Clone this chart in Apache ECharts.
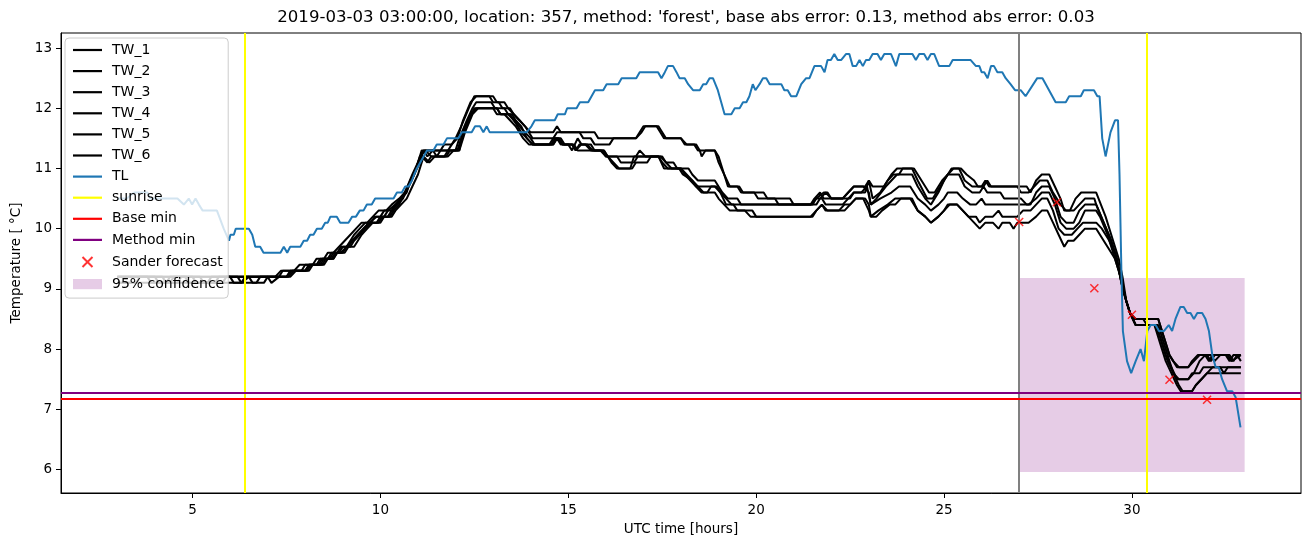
<!DOCTYPE html>
<html><head><meta charset="utf-8">
<script src="https://cdn.jsdelivr.net/npm/echarts@6/dist/echarts.min.js"></script>
<style>html,body{margin:0;padding:0;background:#fff}#c{width:1311px;height:547px}</style>
</head><body><div id="c"></div>
<script>
const titleText = "2019-03-03 03:00:00, location: 357, method: 'forest', base abs error: 0.13, method abs error: 0.03";
const xTicks = [5, 10, 15, 20, 25, 30];
const yTicks = [6, 7, 8, 9, 10, 11, 12, 13];
const sunrise = [6.4, 30.4];
const forecastTime = [27];
const baseMin = [7.17];
const methodMin = [7.28];
const sander = [[27, 10.11], [28, 10.44], [29, 9.01], [30, 8.57], [31, 7.49], [32, 7.16]];
const confX = [27, 33];
const confY = [5.96, 9.18];

const TW_1 = [[3.0,9.2],[5.2,9.2],[5.3,9.1],[5.6,9.1],[5.7,9.2],[7.3,9.2],[7.4,9.3],[7.9,9.3],[8.0,9.4],[8.3,9.4],[8.4,9.5],[8.6,9.5],[8.7,9.6],[8.85,9.6],[8.95,9.7],[9.1,9.7],[9.2,9.8],[9.3,9.9],[9.45,10.0],[9.6,10.1],[9.75,10.1],[9.85,10.2],[10.0,10.2],[10.1,10.3],[10.3,10.3],[10.4,10.4],[10.55,10.5],[10.7,10.6],[10.8,10.8],[10.95,11.0],[11.1,11.3],[11.6,11.3],[11.7,11.4],[11.9,11.4],[12.0,11.5],[12.15,11.7],[12.35,12.0],[12.5,12.2],[13.0,12.2],[13.1,12.1],[13.3,12.1],[13.4,12.0],[13.55,11.9],[13.7,11.8],[13.85,11.7],[14.0,11.6],[14.6,11.6],[14.7,11.7],[14.8,11.6],[15.7,11.6],[15.8,11.5],[16.8,11.5],[16.95,11.6],[17.05,11.7],[17.4,11.7],[17.5,11.6],[17.6,11.5],[18.0,11.5],[18.1,11.4],[18.35,11.4],[18.45,11.3],[18.9,11.3],[19.0,11.2],[19.1,11.0],[19.25,10.7],[19.5,10.7],[19.6,10.6],[20.2,10.6],[20.3,10.5],[20.9,10.5],[21.0,10.4],[21.6,10.4],[21.7,10.5],[21.85,10.6],[22.0,10.5],[22.3,10.5],[22.45,10.6],[22.6,10.7],[22.9,10.7],[23.0,10.8],[23.1,10.7],[23.4,10.7],[23.6,10.9],[23.75,11.0],[24.2,11.0],[24.4,10.8],[24.6,10.6],[24.75,10.6],[24.95,10.8],[25.1,10.9],[25.25,11.0],[25.45,11.0],[25.6,10.9],[25.8,10.8],[25.9,10.7],[26.05,10.7],[26.15,10.8],[26.25,10.7],[27.2,10.7],[27.3,10.6],[27.45,10.8],[27.6,10.9],[27.8,10.9],[27.95,10.7],[28.1,10.5],[28.2,10.3],[28.35,10.3],[28.5,10.5],[28.65,10.6],[29.05,10.6],[29.3,10.2],[29.5,9.8],[29.65,9.5],[29.75,9.2],[29.85,8.8],[29.95,8.6],[30.05,8.5],[30.7,8.5],[30.85,8.2],[31.0,7.9],[31.1,7.8],[31.2,7.7],[31.5,7.7],[31.6,7.8],[31.75,7.9],[31.95,7.9],[32.05,7.8],[32.15,7.9],[32.5,7.9],[32.6,7.8],[32.7,7.9],[32.9,7.9]];

const TW_2 = [[3.0,9.2],[4.8,9.2],[4.9,9.1],[5.4,9.1],[5.5,9.2],[6.5,9.2],[6.6,9.1],[6.9,9.1],[7.0,9.2],[7.5,9.2],[7.6,9.3],[8.0,9.3],[8.1,9.4],[8.45,9.4],[8.55,9.5],[8.75,9.5],[8.85,9.6],[9.0,9.6],[9.1,9.7],[9.25,9.8],[9.4,9.9],[9.55,10.0],[9.7,10.1],[9.9,10.1],[10.0,10.2],[10.2,10.2],[10.3,10.3],[10.45,10.4],[10.6,10.5],[10.75,10.7],[10.9,10.9],[11.05,11.1],[11.15,11.3],[11.25,11.2],[11.4,11.3],[11.8,11.3],[11.9,11.4],[12.05,11.5],[12.2,11.8],[12.4,12.1],[12.55,12.2],[12.9,12.2],[13.0,12.1],[13.15,12.1],[13.25,12.0],[13.45,12.0],[13.55,11.9],[13.7,11.8],[13.85,11.7],[13.95,11.6],[14.05,11.5],[14.6,11.5],[14.7,11.6],[15.3,11.6],[15.4,11.5],[15.6,11.5],[15.7,11.4],[16.1,11.4],[16.2,11.5],[16.8,11.5],[16.9,11.6],[17.0,11.7],[17.35,11.7],[17.45,11.6],[17.55,11.5],[18.0,11.5],[18.15,11.4],[18.4,11.4],[18.5,11.3],[18.55,11.2],[18.65,11.3],[18.9,11.3],[19.0,11.1],[19.15,10.9],[19.3,10.7],[19.55,10.7],[19.65,10.6],[19.95,10.6],[20.05,10.5],[20.5,10.5],[20.6,10.4],[21.5,10.4],[21.6,10.5],[21.8,10.6],[21.9,10.6],[22.0,10.5],[22.5,10.5],[22.6,10.6],[22.9,10.6],[23.0,10.8],[23.1,10.5],[23.3,10.6],[23.5,10.8],[23.65,10.9],[23.8,10.9],[23.9,11.0],[24.15,11.0],[24.3,10.8],[24.55,10.5],[24.7,10.5],[24.9,10.7],[25.1,10.9],[25.2,11.0],[25.4,11.0],[25.55,10.8],[25.75,10.7],[26.0,10.7],[26.1,10.8],[26.2,10.7],[26.95,10.7],[27.05,10.6],[27.25,10.6],[27.4,10.7],[27.55,10.8],[27.75,10.8],[27.9,10.6],[28.1,10.4],[28.25,10.3],[28.45,10.3],[28.6,10.4],[28.75,10.5],[29.0,10.5],[29.05,10.4],[29.25,10.1],[29.45,9.8],[29.6,9.5],[29.72,9.1],[29.85,8.8],[29.95,8.6],[30.05,8.5],[30.7,8.5],[30.85,8.2],[31.0,7.9],[31.1,7.8],[31.25,7.7],[31.5,7.7],[31.65,7.8],[31.8,7.9],[32.0,7.9],[32.1,7.8],[32.2,7.9],[32.6,7.9],[32.7,7.8],[32.8,7.9],[32.9,7.8]];

const TW_3 = [[3.0,9.1],[4.4,9.1],[4.5,9.2],[5.0,9.2],[5.1,9.1],[6.7,9.1],[6.8,9.2],[7.2,9.2],[7.35,9.3],[7.7,9.3],[7.85,9.4],[8.2,9.4],[8.3,9.5],[8.5,9.5],[8.6,9.6],[8.75,9.6],[8.9,9.7],[9.05,9.8],[9.2,9.9],[9.35,10.0],[9.5,10.1],[9.65,10.1],[9.8,10.2],[9.95,10.3],[10.15,10.3],[10.3,10.4],[10.5,10.5],[10.65,10.6],[10.85,10.9],[11.0,11.1],[11.15,11.3],[11.4,11.3],[11.5,11.2],[11.6,11.3],[12.0,11.3],[12.1,11.5],[12.3,11.8],[12.45,12.0],[12.55,12.1],[12.95,12.1],[13.05,12.0],[13.3,12.0],[13.4,11.9],[13.55,11.8],[13.7,11.7],[13.85,11.6],[14.0,11.5],[14.1,11.4],[14.5,11.4],[14.6,11.5],[14.75,11.5],[14.85,11.4],[15.1,11.4],[15.2,11.3],[15.3,11.4],[15.45,11.4],[15.6,11.3],[15.9,11.3],[16.0,11.2],[16.8,11.2],[16.9,11.3],[17.05,11.2],[17.5,11.2],[17.6,11.1],[17.8,11.1],[17.9,11.0],[18.2,11.0],[18.3,10.9],[18.45,10.8],[18.9,10.8],[19.0,10.7],[19.1,10.6],[19.25,10.5],[19.5,10.5],[19.6,10.4],[21.45,10.4],[21.55,10.5],[21.7,10.6],[21.8,10.5],[22.3,10.5],[22.45,10.6],[22.6,10.7],[22.85,10.7],[23.0,10.6],[23.05,10.4],[23.2,10.5],[23.45,10.7],[23.6,10.8],[23.75,10.9],[24.15,10.9],[24.3,10.7],[24.5,10.5],[24.65,10.4],[24.85,10.6],[25.0,10.8],[25.1,10.9],[25.4,10.9],[25.55,10.7],[25.75,10.6],[25.95,10.6],[26.05,10.7],[26.15,10.6],[26.5,10.6],[26.6,10.5],[27.05,10.5],[27.2,10.4],[27.3,10.4],[27.45,10.6],[27.6,10.7],[27.8,10.7],[27.95,10.5],[28.1,10.2],[28.25,10.1],[28.45,10.1],[28.6,10.3],[28.75,10.4],[29.05,10.4],[29.25,10.1],[29.45,9.8],[29.6,9.5],[29.72,9.1],[29.85,8.8],[29.95,8.6],[30.1,8.5],[30.3,8.5],[30.4,8.4],[30.7,8.4],[30.85,8.1],[31.0,7.8],[31.1,7.6],[31.25,7.5],[31.5,7.5],[31.65,7.6],[31.8,7.8],[31.95,7.9],[32.1,7.9],[32.2,7.8],[32.35,7.9],[32.55,7.9],[32.65,7.8],[32.9,7.9]];

const TW_4 = [[3.0,9.2],[3.8,9.2],[3.9,9.1],[4.6,9.1],[4.7,9.2],[6.0,9.2],[6.1,9.1],[6.3,9.1],[6.4,9.2],[7.5,9.2],[7.65,9.3],[8.0,9.3],[8.1,9.4],[8.35,9.4],[8.45,9.5],[8.65,9.5],[8.75,9.6],[8.9,9.6],[9.0,9.7],[9.15,9.7],[9.25,9.8],[9.4,9.9],[9.55,10.0],[9.7,10.1],[9.9,10.2],[10.1,10.2],[10.2,10.3],[10.4,10.4],[10.55,10.5],[10.75,10.7],[10.9,10.9],[11.05,11.2],[11.2,11.3],[11.35,11.2],[11.75,11.2],[11.85,11.3],[12.1,11.3],[12.2,11.6],[12.4,11.9],[12.55,12.0],[13.1,12.0],[13.2,11.9],[13.45,11.9],[13.55,11.8],[13.75,11.6],[13.9,11.5],[14.05,11.4],[14.6,11.4],[14.7,11.5],[14.8,11.4],[15.0,11.4],[15.1,11.3],[15.25,11.5],[15.35,11.4],[15.6,11.4],[15.7,11.3],[15.95,11.3],[16.05,11.2],[16.15,11.1],[16.3,11.0],[16.65,11.0],[16.75,11.2],[17.4,11.2],[17.55,11.0],[17.95,11.0],[18.05,10.9],[18.3,10.8],[18.4,10.7],[18.9,10.7],[19.05,10.6],[19.2,10.5],[19.35,10.4],[21.45,10.4],[21.6,10.5],[21.75,10.5],[21.85,10.4],[22.3,10.4],[22.45,10.5],[22.6,10.6],[22.8,10.6],[22.95,10.7],[23.05,10.4],[23.3,10.5],[23.6,10.6],[23.8,10.7],[24.1,10.7],[24.3,10.5],[24.5,10.4],[24.65,10.3],[24.85,10.4],[25.0,10.5],[25.1,10.6],[25.35,10.6],[25.5,10.5],[25.7,10.4],[25.85,10.4],[26.0,10.5],[26.1,10.4],[27.05,10.4],[27.25,10.4],[27.45,10.5],[27.6,10.6],[27.8,10.6],[27.95,10.4],[28.1,10.1],[28.25,10.0],[28.45,10.0],[28.6,10.1],[28.75,10.3],[29.05,10.3],[29.15,10.2],[29.35,9.9],[29.5,9.6],[29.65,9.3],[29.8,8.9],[29.95,8.6],[30.1,8.4],[30.6,8.4],[30.75,8.2],[30.9,7.9],[31.05,7.7],[31.2,7.5],[31.5,7.5],[31.6,7.6],[31.8,7.6],[31.9,7.7],[32.9,7.7]];

const TW_5 = [[3.0,9.1],[3.5,9.1],[3.6,9.2],[4.2,9.2],[4.3,9.1],[5.8,9.1],[5.9,9.2],[7.0,9.2],[7.1,9.1],[7.3,9.2],[7.55,9.2],[7.7,9.3],[8.05,9.3],[8.15,9.4],[8.4,9.4],[8.5,9.5],[8.7,9.5],[8.8,9.6],[8.95,9.6],[9.1,9.7],[9.2,9.7],[9.3,9.8],[9.45,9.9],[9.6,10.0],[9.75,10.1],[9.95,10.1],[10.05,10.2],[10.25,10.2],[10.35,10.3],[10.5,10.4],[10.65,10.6],[10.8,10.8],[10.95,11.0],[11.1,11.2],[11.25,11.1],[11.35,11.2],[11.7,11.2],[11.8,11.3],[12.05,11.3],[12.15,11.5],[12.35,11.8],[12.5,12.0],[13.0,12.0],[13.1,11.9],[13.3,11.9],[13.45,11.8],[13.6,11.7],[13.8,11.5],[13.95,11.4],[14.6,11.4],[14.7,11.5],[14.85,11.4],[15.15,11.4],[15.25,11.3],[15.95,11.3],[16.05,11.2],[16.2,11.1],[16.35,11.0],[16.7,11.0],[16.8,11.1],[17.1,11.1],[17.2,11.2],[17.4,11.2],[17.5,11.1],[17.65,11.0],[18.0,11.0],[18.1,10.9],[18.25,10.8],[18.4,10.7],[18.55,10.6],[18.7,10.6],[18.8,10.7],[18.95,10.7],[19.05,10.6],[19.2,10.4],[19.4,10.4],[19.5,10.3],[19.9,10.3],[20.0,10.2],[21.5,10.2],[21.6,10.3],[21.75,10.4],[21.85,10.3],[22.35,10.3],[22.5,10.4],[22.65,10.5],[22.9,10.5],[23.0,10.4],[23.05,10.2],[23.25,10.3],[23.5,10.4],[23.7,10.5],[24.1,10.5],[24.3,10.3],[24.5,10.2],[24.65,10.1],[24.85,10.2],[25.0,10.3],[25.1,10.4],[25.35,10.4],[25.5,10.3],[25.65,10.2],[25.85,10.2],[25.95,10.1],[26.1,10.2],[26.3,10.2],[26.45,10.3],[26.55,10.2],[26.95,10.2],[27.1,10.3],[27.3,10.3],[27.45,10.4],[27.6,10.5],[27.75,10.5],[27.9,10.3],[28.05,10.0],[28.2,9.9],[28.4,9.9],[28.55,10.0],[28.7,10.1],[29.05,10.1],[29.2,10.0],[29.4,9.8],[29.55,9.6],[29.7,9.2],[29.85,8.8],[29.95,8.6],[30.1,8.4],[30.65,8.4],[30.8,8.1],[30.95,7.8],[31.1,7.6],[31.25,7.4],[31.35,7.3],[31.6,7.3],[31.7,7.4],[31.85,7.5],[32.0,7.6],[32.15,7.7],[32.35,7.7],[32.45,7.6],[32.55,7.7],[32.9,7.7]];

const TW_6 = [[3.0,9.2],[4.0,9.2],[4.1,9.1],[4.3,9.1],[4.4,9.2],[6.2,9.2],[6.3,9.1],[6.5,9.2],[7.6,9.2],[7.75,9.3],[8.1,9.3],[8.2,9.4],[8.5,9.4],[8.6,9.5],[8.75,9.5],[8.85,9.6],[9.05,9.6],[9.15,9.7],[9.3,9.7],[9.4,9.8],[9.5,9.9],[9.65,10.0],[9.8,10.1],[10.0,10.1],[10.1,10.2],[10.3,10.2],[10.4,10.3],[10.55,10.4],[10.7,10.5],[10.85,10.7],[11.0,10.9],[11.15,11.2],[11.3,11.1],[11.45,11.2],[11.8,11.2],[11.95,11.3],[12.1,11.3],[12.25,11.6],[12.45,11.9],[12.6,12.0],[13.1,12.0],[13.2,11.9],[13.5,11.9],[13.6,11.8],[13.75,11.7],[13.9,11.5],[14.05,11.4],[14.55,11.4],[14.65,11.5],[14.8,11.5],[14.9,11.4],[15.1,11.4],[15.2,11.3],[15.35,11.4],[15.5,11.4],[15.65,11.3],[15.85,11.3],[16.0,11.2],[16.3,11.2],[16.4,11.1],[16.75,11.1],[16.85,11.2],[17.45,11.2],[17.6,11.1],[17.75,11.0],[18.0,11.0],[18.15,10.9],[18.3,10.8],[18.45,10.7],[18.6,10.6],[18.9,10.6],[19.0,10.5],[19.15,10.4],[19.3,10.3],[19.7,10.3],[19.85,10.2],[21.45,10.2],[21.6,10.3],[21.75,10.4],[21.9,10.3],[22.2,10.3],[22.35,10.4],[22.5,10.4],[22.65,10.5],[22.85,10.5],[23.0,10.3],[23.05,10.2],[23.2,10.2],[23.35,10.3],[23.55,10.4],[23.7,10.4],[23.85,10.5],[24.15,10.5],[24.3,10.3],[24.5,10.2],[24.65,10.1],[24.85,10.2],[25.0,10.3],[25.15,10.4],[25.35,10.4],[25.5,10.3],[25.65,10.2],[25.8,10.1],[25.95,10.0],[26.1,10.1],[26.3,10.1],[26.45,10.0],[26.55,10.1],[26.75,10.1],[26.85,10.0],[26.95,10.1],[27.25,10.1],[27.45,10.2],[27.6,10.3],[27.75,10.3],[27.9,10.1],[28.05,9.9],[28.2,9.7],[28.3,9.8],[28.45,9.8],[28.6,9.9],[28.75,10.0],[29.05,10.0],[29.15,9.9],[29.35,9.7],[29.55,9.5],[29.7,9.2],[29.85,8.8],[29.95,8.6],[30.1,8.4],[30.6,8.4],[30.75,8.1],[30.9,7.8],[31.05,7.6],[31.2,7.4],[31.3,7.3],[31.6,7.3],[31.7,7.4],[31.85,7.5],[32.0,7.6],[32.9,7.6]];

const TL = [[3.0,10.5],[3.25,10.5],[3.45,10.6],[3.8,10.6],[3.88,10.5],[4.6,10.5],[4.77,10.4],[4.9,10.5],[4.99,10.4],[5.08,10.5],[5.17,10.4],[5.27,10.3],[5.65,10.3],[5.83,10.0],[5.97,9.8],[6.01,9.9],[6.1,9.9],[6.15,10.0],[6.5,10.0],[6.59,9.9],[6.67,9.7],[6.8,9.7],[6.89,9.6],[7.34,9.6],[7.43,9.7],[7.52,9.6],[7.6,9.7],[7.87,9.7],[7.96,9.8],[8.05,9.8],[8.13,9.9],[8.22,9.9],[8.31,10.0],[8.44,10.0],[8.53,10.1],[8.6,10.1],[8.67,10.2],[8.84,10.2],[8.93,10.1],[9.15,10.1],[9.25,10.2],[9.35,10.2],[9.45,10.3],[9.55,10.3],[9.64,10.4],[9.77,10.4],[9.86,10.5],[10.35,10.5],[10.44,10.6],[10.57,10.6],[10.66,10.7],[10.75,10.7],[10.84,10.8],[10.9,10.9],[10.97,11.0],[11.06,11.1],[11.15,11.2],[11.24,11.3],[11.41,11.3],[11.5,11.4],[11.68,11.4],[11.77,11.5],[12.07,11.5],[12.17,11.6],[12.43,11.6],[12.52,11.7],[12.65,11.7],[12.74,11.6],[12.83,11.7],[12.91,11.6],[13.89,11.6],[14.02,11.7],[14.11,11.8],[14.64,11.8],[14.72,11.9],[14.91,11.9],[14.97,12.0],[15.22,12.0],[15.31,12.1],[15.53,12.1],[15.62,12.2],[15.71,12.3],[15.93,12.3],[16.02,12.4],[16.33,12.4],[16.42,12.5],[16.81,12.5],[16.9,12.6],[17.39,12.6],[17.48,12.5],[17.57,12.6],[17.65,12.7],[17.79,12.7],[17.88,12.6],[17.96,12.5],[18.1,12.5],[18.19,12.4],[18.32,12.3],[18.5,12.3],[18.59,12.4],[18.67,12.4],[18.76,12.5],[18.85,12.5],[18.98,12.3],[19.07,12.1],[19.16,11.9],[19.34,11.9],[19.43,12.0],[19.56,12.0],[19.65,12.1],[19.74,12.1],[19.82,12.2],[19.91,12.4],[19.98,12.3],[20.09,12.4],[20.18,12.5],[20.27,12.5],[20.36,12.4],[20.67,12.4],[20.75,12.3],[20.84,12.3],[20.93,12.2],[21.07,12.2],[21.2,12.4],[21.33,12.5],[21.42,12.5],[21.55,12.7],[21.73,12.7],[21.82,12.6],[21.9,12.8],[21.99,12.8],[22.08,12.9],[22.17,12.8],[22.26,12.8],[22.39,12.9],[22.48,12.9],[22.57,12.7],[22.66,12.7],[22.75,12.8],[22.84,12.7],[22.92,12.8],[23.01,12.8],[23.1,12.9],[23.23,12.9],[23.32,12.8],[23.41,12.9],[23.59,12.9],[23.72,12.7],[23.81,12.9],[24.16,12.9],[24.25,12.8],[24.34,12.9],[24.47,12.9],[24.56,12.8],[24.65,12.9],[24.74,12.9],[24.87,12.7],[25.14,12.7],[25.23,12.8],[25.71,12.8],[25.85,12.7],[25.94,12.7],[26.0,12.6],[26.07,12.6],[26.16,12.5],[26.25,12.7],[26.33,12.7],[26.42,12.6],[26.55,12.6],[26.64,12.5],[26.77,12.4],[26.89,12.3],[27.04,12.3],[27.17,12.2],[27.48,12.5],[27.62,12.5],[27.97,12.1],[28.24,12.1],[28.33,12.2],[28.64,12.2],[28.72,12.3],[28.99,12.3],[29.08,12.2],[29.14,12.2],[29.21,11.5],[29.3,11.2],[29.43,11.6],[29.55,11.8],[29.63,11.8],[29.67,10.9],[29.72,9.3],[29.76,8.3],[29.87,7.8],[29.98,7.6],[30.1,7.8],[30.23,8.0],[30.32,7.8],[30.41,8.3],[30.5,8.4],[30.63,8.4],[30.72,8.3],[30.85,8.3],[30.98,8.4],[31.07,8.3],[31.16,8.5],[31.29,8.7],[31.38,8.7],[31.47,8.6],[31.56,8.6],[31.65,8.5],[31.74,8.6],[31.87,8.6],[31.96,8.5],[32.05,8.3],[32.14,7.9],[32.23,7.7],[32.31,7.7],[32.4,7.5],[32.53,7.3],[32.67,7.3],[32.76,7.2],[32.8,7.05],[32.89,6.7]];

const twNames = ['TW_1', 'TW_2', 'TW_3', 'TW_4', 'TW_5', 'TW_6'];
const twData = [TW_1, TW_2, TW_3, TW_4, TW_5, TW_6];

const font = 'DejaVu Sans';
const xPath = 'path://M0,0L10,10M10,0L0,10';
const xLegendPath = 'path://M-7,-2L-7,-2.01M17,12L17,12.01M0,0L10,10M10,0L0,10';
const lineIcon = 'path://M0,0L29,0L29,2.2L0,2.2Z';
const rectIcon = 'path://M0,0L27,0L27,9.5L0,9.5Z';
const chart = echarts.init(document.getElementById('c'), null, {renderer: 'canvas'});

const series = twData.map((d, i) => ({
  name: twNames[i], type: 'line', data: d, symbol: 'none', showSymbol: false,
  color: '#000000', lineStyle: {color: '#000000', width: 2}, z: 3
}));
series.push({
  name: 'TL', type: 'line', data: TL, symbol: 'none', showSymbol: false,
  color: '#1f77b4', lineStyle: {color: '#1f77b4', width: 2}, z: 4
});
series.push({
  name: 'sunrise', type: 'line', data: [], symbol: 'none', color: '#ffff00',
  lineStyle: {color: '#ffff00', width: 2}, z: 5,
  markLine: {silent: true, symbol: 'none', label: {show: false}, animation: false,
    lineStyle: {color: '#ffff00', width: 2, type: 'solid'},
    data: sunrise.map(v => ({xAxis: v}))}
});
series.push({
  name: 'forecast', type: 'line', data: [], symbol: 'none', color: '#808080', z: 5,
  markLine: {silent: true, symbol: 'none', label: {show: false}, animation: false,
    lineStyle: {color: '#808080', width: 2, type: 'solid'},
    data: forecastTime.map(v => ({xAxis: v}))}
});
series.push({
  name: 'Base min', type: 'line', data: [], symbol: 'none', color: '#ff0000',
  lineStyle: {color: '#ff0000', width: 2}, z: 5,
  markLine: {silent: true, symbol: 'none', label: {show: false}, animation: false,
    lineStyle: {color: '#ff0000', width: 2, type: 'solid'},
    data: baseMin.map(v => ({yAxis: v}))}
});
series.push({
  name: 'Method min', type: 'line', data: [], symbol: 'none', color: '#800080',
  lineStyle: {color: '#800080', width: 2}, z: 5,
  markLine: {silent: true, symbol: 'none', label: {show: false}, animation: false,
    lineStyle: {color: '#800080', width: 2, type: 'solid'},
    data: methodMin.map(v => ({yAxis: v}))}
});
series.push({
  name: 'Sander forecast', type: 'scatter', data: sander, symbol: xPath, symbolSize: 8,
  itemStyle: {color: 'rgba(0,0,0,0)', borderColor: '#ff0000', borderWidth: 1.5}, z: 6
});
series.push({
  name: '95% confidence', type: 'line', data: [], symbol: 'none', color: 'rgba(128,0,128,0.2)',
  itemStyle: {color: 'rgba(128,0,128,0.2)'}, z: 1,
  markArea: {silent: true, animation: false, itemStyle: {color: 'rgba(128,0,128,0.2)'},
    data: [[{xAxis: confX[0], yAxis: confY[0]}, {xAxis: confX[1], yAxis: confY[1]}]]}
});

const lineNames = ['TW_1', 'TW_2', 'TW_3', 'TW_4', 'TW_5', 'TW_6', 'TL', 'sunrise', 'Base min', 'Method min'];

const option = {
  animation: false,
  backgroundColor: '#ffffff',
  title: {
    text: titleText, left: 681, top: 4, textAlign: 'center',
    textStyle: {fontFamily: font, fontSize: 16.6, fontWeight: 'normal', color: '#000'}
  },
  grid: {left: 61, right: 10, top: 33, bottom: 54, show: true, borderColor: '#000', borderWidth: 1},
  legend: {
    z: 20,
    orient: 'vertical', left: 65, top: 38, padding: [5, 4, 7, 8],
    itemWidth: 29, itemHeight: 14, itemGap: 7.1,
    backgroundColor: 'rgba(255,255,255,0.8)', borderColor: '#cccccc', borderWidth: 1, borderRadius: 4,
    textStyle: {fontFamily: font, fontSize: 14, color: '#000', padding: [0, 0, 0, 5]},
    data: lineNames.map(n => ({name: n, icon: lineIcon})).concat([
      {name: 'Sander forecast', icon: xLegendPath},
      {name: '95% confidence', icon: rectIcon}])
  },
  xAxis: {
    type: 'value', min: 1.5, max: 34.5,
    name: 'UTC time [hours]', nameLocation: 'middle', nameGap: 29,
    nameTextStyle: {fontFamily: font, fontSize: 13.5, color: '#000'},
    axisLine: {show: true, onZero: false, lineStyle: {color: '#000', width: 1}},
    axisTick: {show: true, length: 5, lineStyle: {color: '#000'}, customValues: xTicks},
    axisLabel: {customValues: xTicks, margin: 10, fontFamily: font, fontSize: 13.5, color: '#000'},
    splitLine: {show: false}
  },
  yAxis: {
    type: 'value', min: 5.61, max: 13.25,
    name: 'Temperature [ °C]', nameLocation: 'middle', nameGap: 36, nameRotate: 90,
    nameTextStyle: {fontFamily: font, fontSize: 13.5, color: '#000'},
    axisLine: {show: true, onZero: false, lineStyle: {color: '#000', width: 1}},
    axisTick: {show: true, length: 5, lineStyle: {color: '#000'}, customValues: yTicks},
    axisLabel: {customValues: yTicks, margin: 9, fontFamily: font, fontSize: 13.5, color: '#000'},
    splitLine: {show: false}
  },
  series: series
};
chart.setOption(option);
</script>
</body></html>
